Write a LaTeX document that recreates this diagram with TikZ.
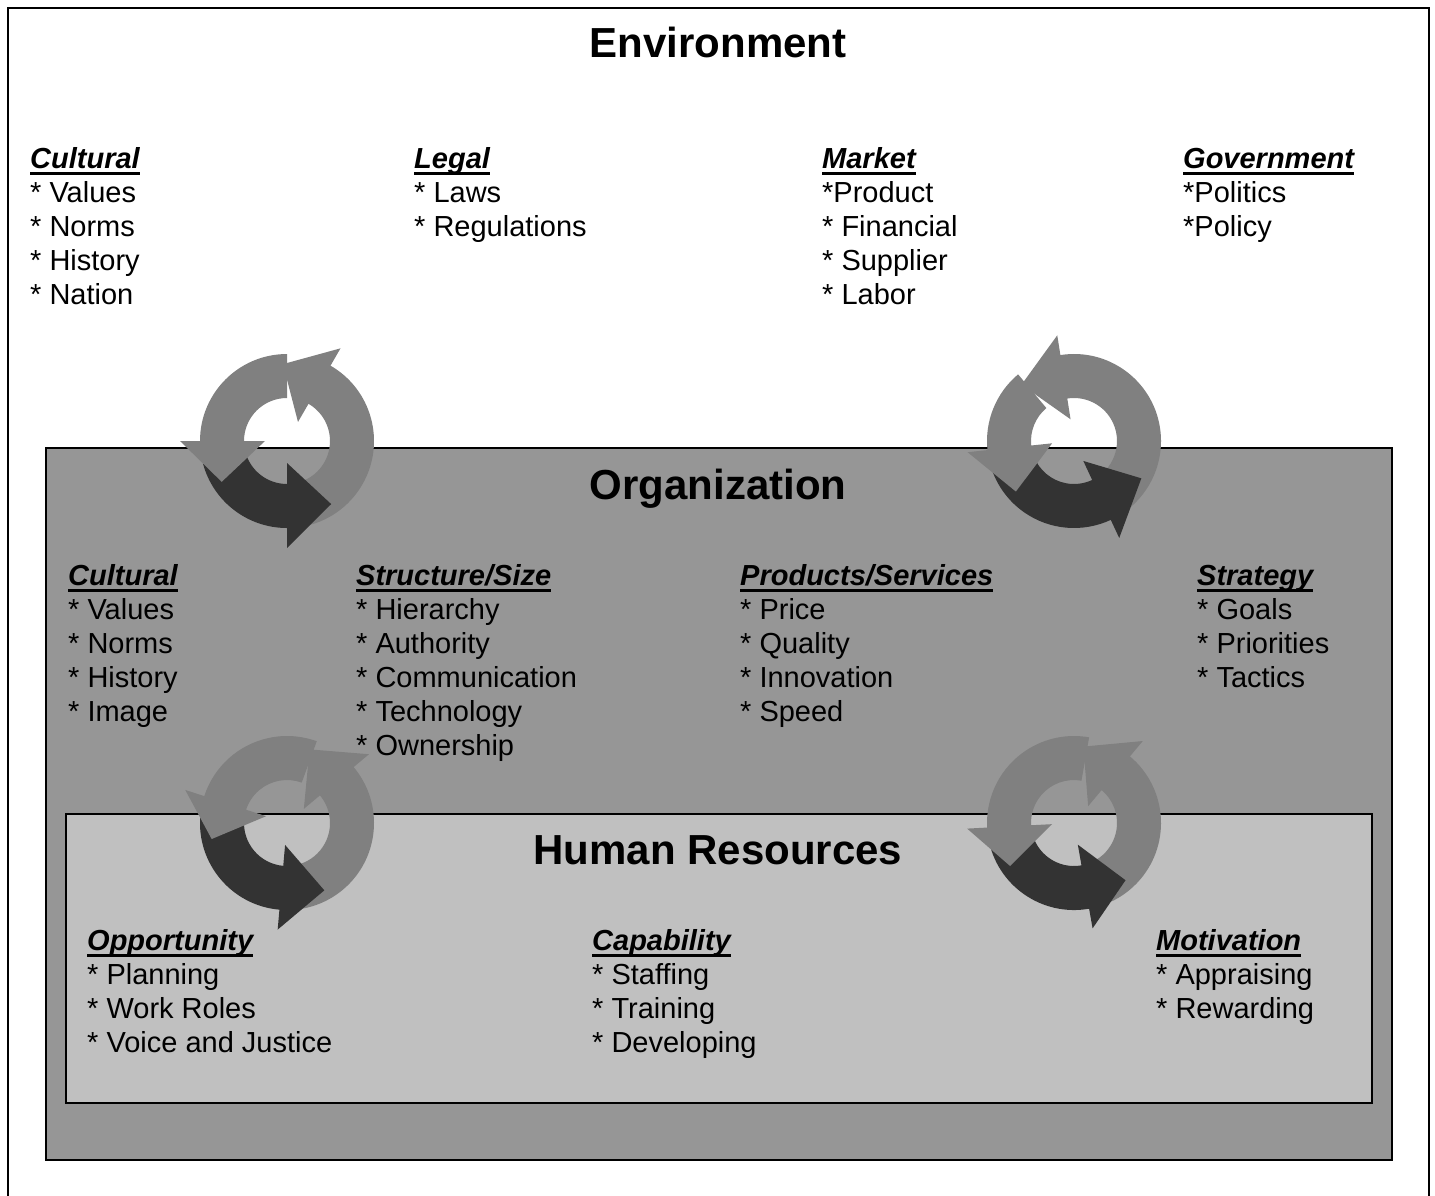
\documentclass[tikz,border=0pt]{standalone}
\usepackage{fontspec}
\setmainfont{Liberation Sans}
\newsavebox\hdrbox
\newcommand\myhdr[1]{\sbox\hdrbox{\bfseries\itshape #1}\rlap{\rule[-7pt]{\wd\hdrbox}{3pt}}\usebox\hdrbox}
\definecolor{orgfill}{HTML}{969696}
\definecolor{hrfill}{HTML}{C0C0C0}
\definecolor{ringgray}{HTML}{808080}
\definecolor{ringdark}{HTML}{333333}
% #1 centre, #2 tail angle, #3 head base angle, #4 tip angle, #5 colour
\newcommand\cycarrow[5]{%
  \fill[#5] ([shift={(#1)}]#2:43pt) arc[start angle=#2, end angle=#3, radius=43pt]
    -- ([shift={(#1)}]#3:22pt) -- ([shift={(#1)}]#4:77pt) -- ([shift={(#1)}]#3:107pt)
    -- ([shift={(#1)}]#3:87pt) arc[start angle=#3, end angle=#2, radius=87pt] -- cycle;}
\tikzset{
  titletext/.style={anchor=base, inner sep=0pt, font=\fontsize{42}{50}\selectfont\bfseries},
  grp/.style={anchor=north west, inner sep=0pt, align=left, font=\fontsize{29}{34}\selectfont},
}
\begin{document}
\begin{tikzpicture}[x=1pt,y=1pt]
\useasboundingbox (0,0) rectangle (1435,-1195);
\fill[white] (0,0) rectangle (1435,-1195);
% outer frame
\draw[line width=2pt] (8,-1205) -- (8,-8) -- (1429,-8) -- (1429,-1205);
% boxes
\draw[fill=orgfill, line width=2pt] (46,-448) rectangle (1392,-1160);
\draw[fill=hrfill, line width=2.4pt] (66,-814) rectangle (1372,-1103);
% cycle centres
\coordinate (c1) at (287,-441);
\coordinate (c2) at (1074,-441);
\coordinate (c3) at (287,-823);
\coordinate (c4) at (1074,-823);
% circle 1
\cycarrow{c1}{280}{420}{453}{ringgray}
\cycarrow{c1}{195}{270}{305}{ringdark}
\cycarrow{c1}{90}{180}{212}{ringgray}
% circle 2
\cycarrow{c2}{300}{459}{493}{ringgray}
\cycarrow{c2}{200}{295}{331}{ringdark}
\cycarrow{c2}{130}{186}{221}{ringgray}
% circle 3
\cycarrow{c3}{275}{400}{433}{ringgray}
\cycarrow{c3}{175}{265}{299}{ringdark}
\cycarrow{c3}{70}{162}{192}{ringgray}
% circle 4
\cycarrow{c4}{290}{410}{443}{ringgray}
\cycarrow{c4}{190}{280}{312}{ringdark}
\cycarrow{c4}{80}{183}{214}{ringgray}
% titles
\node[titletext] (envT) at (718,-57) {Environment};
\node[titletext] (orgT) at (718,-499) {Organization};
\node[titletext] (hrT) at (718,-864) {Human Resources};
% environment groups
\node[grp] (envcult) at (30,-144.2) {\strut\myhdr{Cultural}\\* Values\\* Norms\\* History\\* Nation};
\node[grp] (envlegal) at (414,-144.2) {\strut\myhdr{Legal}\\* Laws\\* Regulations};
\node[grp] (envmarket) at (822,-144.2) {\strut\myhdr{Market}\\*Product\\* Financial\\* Supplier\\* Labor};
\node[grp] (envgov) at (1183,-144.2) {\strut\myhdr{Government}\\*Politics\\*Policy};
% organization groups
\node[grp] (orgcult) at (68,-561.2) {\strut\myhdr{Cultural}\\* Values\\* Norms\\* History\\* Image};
\node[grp] (orgstruct) at (356,-561.2) {\strut\myhdr{Structure/Size}\\* Hierarchy\\* Authority\\* Communication\\* Technology\\* Ownership};
\node[grp] (orgprod) at (740,-561.2) {\strut\myhdr{Products/Services}\\* Price\\* Quality\\* Innovation\\* Speed};
\node[grp] (orgstrat) at (1197,-561.2) {\strut\myhdr{Strategy}\\* Goals\\* Priorities\\* Tactics};
% HR groups
\node[grp] (hropp) at (87,-926.2) {\strut\myhdr{Opportunity}\\* Planning\\* Work Roles\\* Voice and Justice};
\node[grp] (hrcap) at (592,-926.2) {\strut\myhdr{Capability}\\* Staffing\\* Training\\* Developing};
\node[grp] (hrmot) at (1156,-926.2) {\strut\myhdr{Motivation}\\* Appraising\\* Rewarding};
\end{tikzpicture}
\end{document}
